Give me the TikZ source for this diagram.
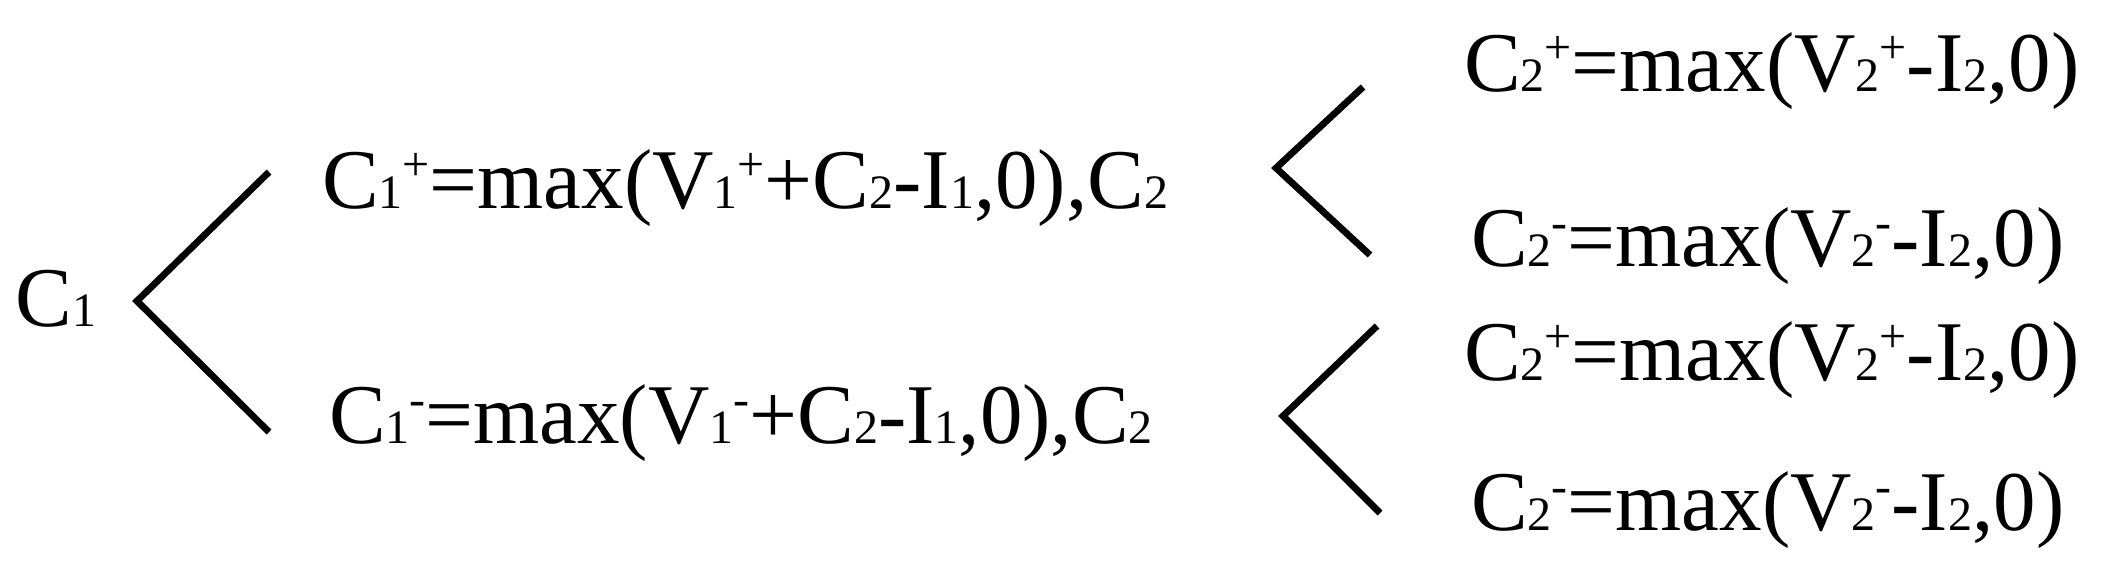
\documentclass[tikz,border=0pt]{standalone}
\usepackage{fontspec}
\setmainfont{Liberation Serif}
\newcommand\sbx[1]{{\fontsize{24}{24}\selectfont #1}}
\newcommand\spx[1]{\raisebox{14pt}{\fontsize{24}{24}\selectfont #1}}
\begin{document}
\begin{tikzpicture}[x=0.5pt,y=-0.5pt,
  txt/.style={anchor=base west,inner sep=0pt,outer sep=0pt,font=\fontsize{42.5}{48}\selectfont},
  brk/.style={line width=3.4pt,line join=miter}]
\useasboundingbox (0,0) rectangle (2106,573);
\node[txt] (c1) at (16,326) {C\sbx{1}};
\node[txt] (l1) at (322,208) {C\sbx{1}\spx{+}=max(V\sbx{1}\spx{+}+C\sbx{2}-I\sbx{1},0),C\sbx{2}};
\node[txt] (l2) at (329,443) {C\sbx{1}\spx{-}=max(V\sbx{1}\spx{-}+C\sbx{2}-I\sbx{1},0),C\sbx{2}};
\node[txt] (t1) at (1464,91) {C\sbx{2}\spx{+}=max(V\sbx{2}\spx{+}-I\sbx{2},0)};
\node[txt] (t2) at (1471,266) {C\sbx{2}\spx{-}=max(V\sbx{2}\spx{-}-I\sbx{2},0)};
\node[txt] (t3) at (1464,380) {C\sbx{2}\spx{+}=max(V\sbx{2}\spx{+}-I\sbx{2},0)};
\node[txt] (t4) at (1471,530) {C\sbx{2}\spx{-}=max(V\sbx{2}\spx{-}-I\sbx{2},0)};
\coordinate (b1t) at (269,172);
\coordinate (b1a) at (137,301);
\coordinate (b1b) at (269,432);
\coordinate (b2t) at (1363,87);
\coordinate (b2a) at (1276,168);
\coordinate (b2b) at (1370,255);
\coordinate (b3t) at (1377,326);
\coordinate (b3a) at (1283,416);
\coordinate (b3b) at (1380,513);
\draw[brk] (b1t) -- (b1a) -- (b1b);
\draw[brk] (b2t) -- (b2a) -- (b2b);
\draw[brk] (b3t) -- (b3a) -- (b3b);
\end{tikzpicture}
\end{document}
